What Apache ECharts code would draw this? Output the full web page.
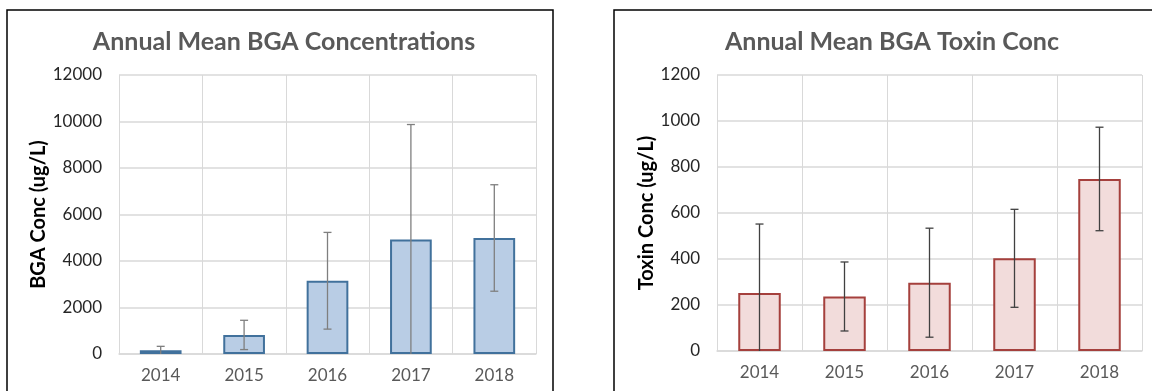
<!DOCTYPE html>
<html>
<head>
<meta charset="utf-8">
<script src="https://cdn.jsdelivr.net/npm/echarts@6/dist/echarts.min.js"></script>
<style>
  html, body { margin: 0; padding: 0; background: #fff; }
  #main { width: 1152px; height: 391px; }
</style>
</head>
<body>
<div id="main"></div>
<script>
// data
var years = ['2014', '2015', '2016', '2017', '2018'];
var bgaMean = [160, 820, 3150, 4920, 4990];
var bgaErr = [170, 630, 2080, 4950, 2290];
var toxinMean = [252, 237, 297, 403, 748];
var toxinErr = [300, 150, 237, 213, 225];

var gridColor = '#d9d9d9';

function errData(mean, err) {
  return mean.map(function (m, i) { return [i, m - err[i], m + err[i]]; });
}

// vertical error bar with caps, lower part clipped at 0
function errorBar(color) {
  return function (params, api) {
    var lo = api.value(1), hi = api.value(2);
    var top = api.coord([api.value(0), hi]);
    var bot = api.coord([api.value(0), Math.max(lo, 0)]);
    var x = top[0], cap = 4;
    var style = { stroke: color, lineWidth: 1.3 };
    var kids = [
      { type: 'line', shape: { x1: x, y1: top[1], x2: x, y2: bot[1] }, style: style },
      { type: 'line', shape: { x1: x - cap, y1: top[1], x2: x + cap, y2: top[1] }, style: style }
    ];
    if (lo > 0) {
      kids.push({ type: 'line', shape: { x1: x - cap, y1: bot[1], x2: x + cap, y2: bot[1] }, style: style });
    }
    return { type: 'group', children: kids };
  };
}

function catAxis(gi) {
  return {
    type: 'category', gridIndex: gi, data: years,
    axisTick: { show: false },
    axisLine: { lineStyle: { color: gridColor, width: 1.5 } },
    axisLabel: { color: '#595959', fontSize: 17, margin: 13, fontFamily: 'Lato' },
    splitLine: { show: true, lineStyle: { color: gridColor, width: 1 } }
  };
}

function valAxis(gi, max, interval, name, gap) {
  return {
    type: 'value', gridIndex: gi, min: 0, max: max, interval: interval,
    name: name, nameLocation: 'middle', nameRotate: 90, nameGap: gap,
    nameTextStyle: { color: '#000', fontSize: 20, fontWeight: 'bold', fontFamily: 'Lato' },
    axisLine: { show: false }, axisTick: { show: false },
    axisLabel: { color: '#262626', fontSize: 17, margin: 17, fontFamily: 'Lato',
      formatter: function (v) { return String(v); } },
    splitLine: { lineStyle: { color: gridColor, width: 1.5 } }
  };
}

var chart = echarts.init(document.getElementById('main'));
chart.setOption({
  animation: false,
  backgroundColor: '#fff',
  graphic: [
    { type: 'rect', shape: { x: 7, y: 10, width: 546, height: 420 }, style: { fill: 'none', stroke: '#000', lineWidth: 1.5 }, z: 100 },
    { type: 'rect', shape: { x: 614, y: 10, width: 600, height: 420 }, style: { fill: 'none', stroke: '#000', lineWidth: 1.5 }, z: 100 }
  ],
  title: [
    { text: 'Annual Mean BGA Concentrations', left: 279, top: 24, textAlign: 'center',
      textStyle: { color: '#595959', fontSize: 25, fontWeight: 'bold', fontFamily: 'Lato' } },
    { text: 'Annual Mean BGA Toxin Conc', left: 887, top: 24, textAlign: 'center',
      textStyle: { color: '#595959', fontSize: 25, fontWeight: 'bold', fontFamily: 'Lato' } }
  ],
  grid: [
    { left: 119, top: 75, width: 417, height: 279 },
    { left: 717, top: 75, width: 425, height: 276 }
  ],
  xAxis: [catAxis(0), catAxis(1)],
  yAxis: [
    valAxis(0, 12000, 2000, 'BGA Conc (ug/L)', 69),
    valAxis(1, 1200, 200, 'Toxin Conc (ug/L)', 59)
  ],
  series: [
    {
      type: 'bar', xAxisIndex: 0, yAxisIndex: 0, data: bgaMean, barWidth: '50%',
      itemStyle: { color: '#b9cde5', borderColor: '#41719c', borderWidth: 2 }
    },
    {
      type: 'custom', xAxisIndex: 0, yAxisIndex: 0, data: errData(bgaMean, bgaErr),
      renderItem: errorBar('#7f7f7f'), z: 5
    },
    {
      type: 'bar', xAxisIndex: 1, yAxisIndex: 1, data: toxinMean, barWidth: '50%',
      itemStyle: { color: '#f2dcdb', borderColor: '#a5403d', borderWidth: 2 }
    },
    {
      type: 'custom', xAxisIndex: 1, yAxisIndex: 1, data: errData(toxinMean, toxinErr),
      renderItem: errorBar('#404040'), z: 5
    }
  ]
});
</script>
</body>
</html>
